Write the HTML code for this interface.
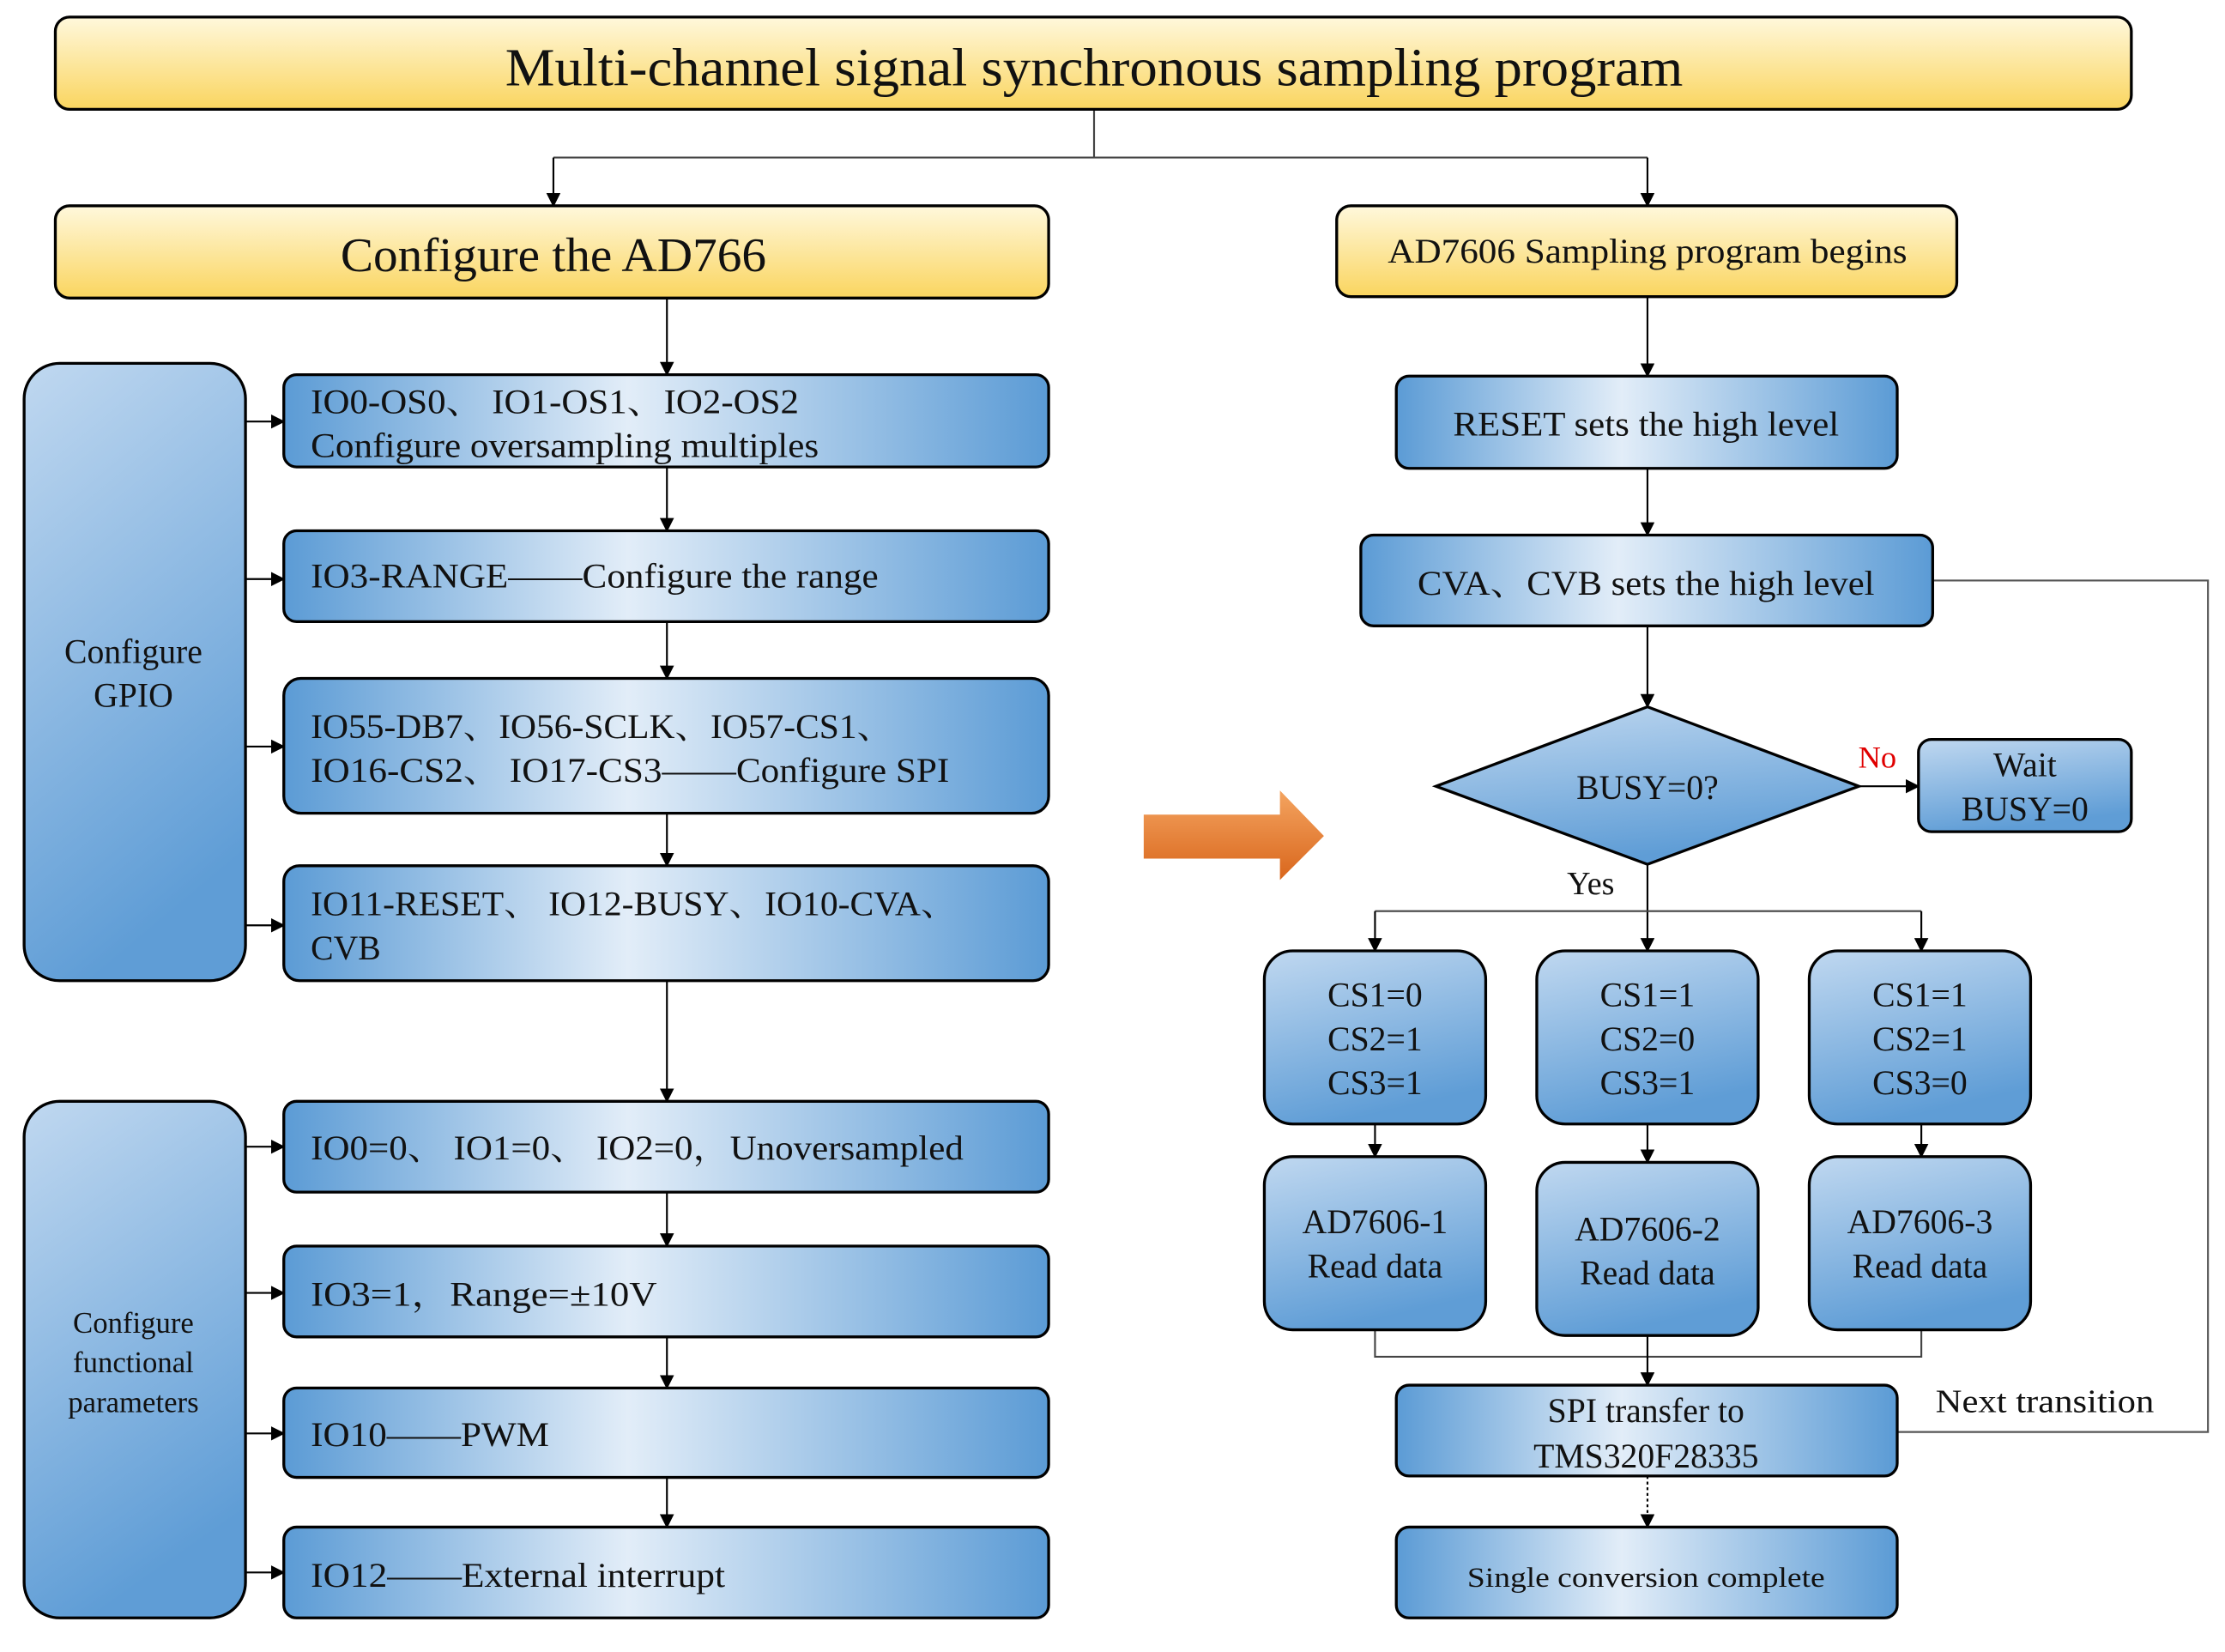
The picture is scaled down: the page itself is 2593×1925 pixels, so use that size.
<!DOCTYPE html>
<html><head><meta charset="utf-8"><style>html,body{margin:0;padding:0;background:#fff}svg{display:block}svg text{font-family:"Liberation Serif","Noto Serif CJK SC",serif}</style></head>
<body>
<svg width="2593" height="1925" viewBox="0 0 1568 1164" xmlns="http://www.w3.org/2000/svg">
<defs>
<linearGradient id="yel" x1="0" y1="0" x2="0" y2="1"><stop offset="0" stop-color="#fff8dc"/><stop offset="1" stop-color="#fad55f"/></linearGradient>
<linearGradient id="bh" x1="0" y1="0" x2="1" y2="0"><stop offset="0" stop-color="#5b9bd5"/><stop offset="0.45" stop-color="#e2edf8"/><stop offset="1" stop-color="#5b9bd5"/></linearGradient>
<linearGradient id="bv" x1="0" y1="0" x2="0.3" y2="1"><stop offset="0" stop-color="#c0d8f0"/><stop offset="1" stop-color="#5f9dd6"/></linearGradient>
<linearGradient id="or" x1="0" y1="0" x2="0" y2="1"><stop offset="0" stop-color="#f4a460"/><stop offset="1" stop-color="#d9661c"/></linearGradient>
<marker id="a" markerWidth="10" markerHeight="10" refX="9" refY="5" orient="auto" markerUnits="userSpaceOnUse"><path d="M0,0 L10,5 L0,10 z" fill="#000"/></marker>
</defs>
<g fill="none" stroke="#000" stroke-width="1.3">
<path d="M771,77 V111 M390,111 H1161" stroke="#444"/>
<path d="M390,111 V145" marker-end="url(#a)"/>
<path d="M1161,111 V145" marker-end="url(#a)"/>
<path d="M470,210 V264" marker-end="url(#a)"/>
<path d="M470,329 V374" marker-end="url(#a)"/>
<path d="M470,438 V478" marker-end="url(#a)"/>
<path d="M470,573 V610" marker-end="url(#a)"/>
<path d="M470,691 V776" marker-end="url(#a)"/>
<path d="M470,840 V878" marker-end="url(#a)"/>
<path d="M470,942 V978" marker-end="url(#a)"/>
<path d="M470,1041 V1076" marker-end="url(#a)"/>
<path d="M173,297 H200" marker-end="url(#a)"/>
<path d="M173,408 H200" marker-end="url(#a)"/>
<path d="M173,526 H200" marker-end="url(#a)"/>
<path d="M173,652 H200" marker-end="url(#a)"/>
<path d="M173,808 H200" marker-end="url(#a)"/>
<path d="M173,911 H200" marker-end="url(#a)"/>
<path d="M173,1010 H200" marker-end="url(#a)"/>
<path d="M173,1108 H200" marker-end="url(#a)"/>
<path d="M1161,209 V265" marker-end="url(#a)"/>
<path d="M1161,330 V377" marker-end="url(#a)"/>
<path d="M1161,441 V498" marker-end="url(#a)"/>
<path d="M1310,554 H1352" marker-end="url(#a)"/>
<path d="M1161,609 V670" marker-end="url(#a)"/>
<path d="M969,642 H1354" stroke="#444"/>
<path d="M969,642 V670" marker-end="url(#a)"/>
<path d="M1354,642 V670" marker-end="url(#a)"/>
<path d="M969,792 V815" marker-end="url(#a)"/>
<path d="M1161,792 V819" marker-end="url(#a)"/>
<path d="M1354,792 V815" marker-end="url(#a)"/>
<path d="M969,937 V956 H1354 V937" stroke="#444"/>
<path d="M1161,941 V976" marker-end="url(#a)"/>
<path d="M1161,1040 V1076" stroke-dasharray="2,2" marker-end="url(#a)"/>
<path d="M1362,409 H1556 V1009 H1337" stroke="#555"/>
</g>
<g stroke="#000" stroke-width="2">
<rect x="39" y="12" width="1463" height="65" rx="10" fill="url(#yel)"/>
<rect x="39" y="145" width="700" height="65" rx="10" fill="url(#yel)"/>
<rect x="942" y="145" width="437" height="64" rx="10" fill="url(#yel)"/>
<rect x="17" y="256" width="156" height="435" rx="25" fill="url(#bv)"/>
<rect x="17" y="776" width="156" height="364" rx="25" fill="url(#bv)"/>
<rect x="200" y="264" width="539" height="65" rx="9" fill="url(#bh)"/>
<rect x="200" y="374" width="539" height="64" rx="9" fill="url(#bh)"/>
<rect x="200" y="478" width="539" height="95" rx="12" fill="url(#bh)"/>
<rect x="200" y="610" width="539" height="81" rx="11" fill="url(#bh)"/>
<rect x="200" y="776" width="539" height="64" rx="9" fill="url(#bh)"/>
<rect x="200" y="878" width="539" height="64" rx="9" fill="url(#bh)"/>
<rect x="200" y="978" width="539" height="63" rx="9" fill="url(#bh)"/>
<rect x="200" y="1076" width="539" height="64" rx="9" fill="url(#bh)"/>
<rect x="984" y="265" width="353" height="65" rx="9" fill="url(#bh)"/>
<rect x="959" y="377" width="403" height="64" rx="9" fill="url(#bh)"/>
<polygon points="1012,554 1161,498 1310,554 1161,609" fill="url(#bv)"/>
<rect x="1352" y="521" width="150" height="65" rx="9" fill="url(#bv)"/>
<rect x="891" y="670" width="156" height="122" rx="20" fill="url(#bv)"/>
<rect x="1083" y="670" width="156" height="122" rx="20" fill="url(#bv)"/>
<rect x="1275" y="670" width="156" height="122" rx="20" fill="url(#bv)"/>
<rect x="891" y="815" width="156" height="122" rx="20" fill="url(#bv)"/>
<rect x="1083" y="819" width="156" height="122" rx="20" fill="url(#bv)"/>
<rect x="1275" y="815" width="156" height="122" rx="20" fill="url(#bv)"/>
<rect x="984" y="976" width="353" height="64" rx="9" fill="url(#bh)"/>
<rect x="984" y="1076" width="353" height="64" rx="9" fill="url(#bh)"/>
</g>
<polygon points="806,574 902,574 902,557 933,589 902,620 902,605 806,605" fill="url(#or)"/>
<g fill="#111" font-size="24">
<text x="771" y="60" font-size="38" text-anchor="middle" textLength="830" lengthAdjust="spacingAndGlyphs">Multi-channel signal synchronous sampling program</text>
<text x="390" y="191" font-size="34" text-anchor="middle" textLength="300" lengthAdjust="spacingAndGlyphs">Configure  the AD766</text>
<text x="1161" y="185" text-anchor="middle" textLength="366" lengthAdjust="spacingAndGlyphs">AD7606 Sampling program begins</text>
<text x="94" y="467" text-anchor="middle">Configure</text>
<text x="94" y="498" text-anchor="middle">GPIO</text>
<text x="94" y="939" font-size="21" text-anchor="middle">Configure</text>
<text x="94" y="967" font-size="21" text-anchor="middle">functional</text>
<text x="94" y="995" font-size="21" text-anchor="middle">parameters</text>
<text x="219" y="291" textLength="344" lengthAdjust="spacingAndGlyphs">IO0-OS0、 IO1-OS1、IO2-OS2</text>
<text x="219" y="322" textLength="358" lengthAdjust="spacingAndGlyphs">Configure oversampling multiples</text>
<text x="219" y="414" textLength="400" lengthAdjust="spacingAndGlyphs">IO3-RANGE——Configure the range</text>
<text x="219" y="520" textLength="410" lengthAdjust="spacingAndGlyphs">IO55-DB7、IO56-SCLK、IO57-CS1、</text>
<text x="219" y="551" textLength="450" lengthAdjust="spacingAndGlyphs">IO16-CS2、 IO17-CS3——Configure SPI</text>
<text x="219" y="645" textLength="455" lengthAdjust="spacingAndGlyphs">IO11-RESET、 IO12-BUSY、IO10-CVA、</text>
<text x="219" y="676">CVB</text>
<text x="219" y="817" textLength="460" lengthAdjust="spacingAndGlyphs">IO0=0、 IO1=0、 IO2=0，Unoversampled</text>
<text x="219" y="920" textLength="244" lengthAdjust="spacingAndGlyphs">IO3=1，Range=±10V</text>
<text x="219" y="1019" textLength="168" lengthAdjust="spacingAndGlyphs">IO10——PWM</text>
<text x="219" y="1118" textLength="292" lengthAdjust="spacingAndGlyphs">IO12——External interrupt</text>
<text x="1160" y="307" text-anchor="middle" textLength="272" lengthAdjust="spacingAndGlyphs">RESET sets the high level</text>
<text x="1160" y="419" text-anchor="middle" textLength="322" lengthAdjust="spacingAndGlyphs">CVA、CVB sets the high level</text>
<text x="1161" y="563" text-anchor="middle">BUSY=0?</text>
<text x="1323" y="541" fill="#e00000" font-size="22" text-anchor="middle">No</text>
<text x="1427" y="547" text-anchor="middle">Wait</text>
<text x="1427" y="578" text-anchor="middle">BUSY=0</text>
<text x="1121" y="630" font-size="23" text-anchor="middle">Yes</text>
<text x="969" y="709" text-anchor="middle">CS1=0</text><text x="969" y="740" text-anchor="middle">CS2=1</text><text x="969" y="771" text-anchor="middle">CS3=1</text>
<text x="1161" y="709" text-anchor="middle">CS1=1</text><text x="1161" y="740" text-anchor="middle">CS2=0</text><text x="1161" y="771" text-anchor="middle">CS3=1</text>
<text x="1353" y="709" text-anchor="middle">CS1=1</text><text x="1353" y="740" text-anchor="middle">CS2=1</text><text x="1353" y="771" text-anchor="middle">CS3=0</text>
<text x="969" y="869" text-anchor="middle">AD7606-1</text><text x="969" y="900" text-anchor="middle">Read data</text>
<text x="1161" y="874" text-anchor="middle">AD7606-2</text><text x="1161" y="905" text-anchor="middle">Read data</text>
<text x="1353" y="869" text-anchor="middle">AD7606-3</text><text x="1353" y="900" text-anchor="middle">Read data</text>
<text x="1160" y="1002" text-anchor="middle">SPI transfer  to</text>
<text x="1160" y="1034" text-anchor="middle">TMS320F28335</text>
<text x="1160" y="1118" font-size="20" text-anchor="middle" textLength="252" lengthAdjust="spacingAndGlyphs">Single conversion complete</text>
<text x="1364" y="995" font-size="23" textLength="154" lengthAdjust="spacingAndGlyphs">Next transition</text>
</g>
</svg>
</body></html>
